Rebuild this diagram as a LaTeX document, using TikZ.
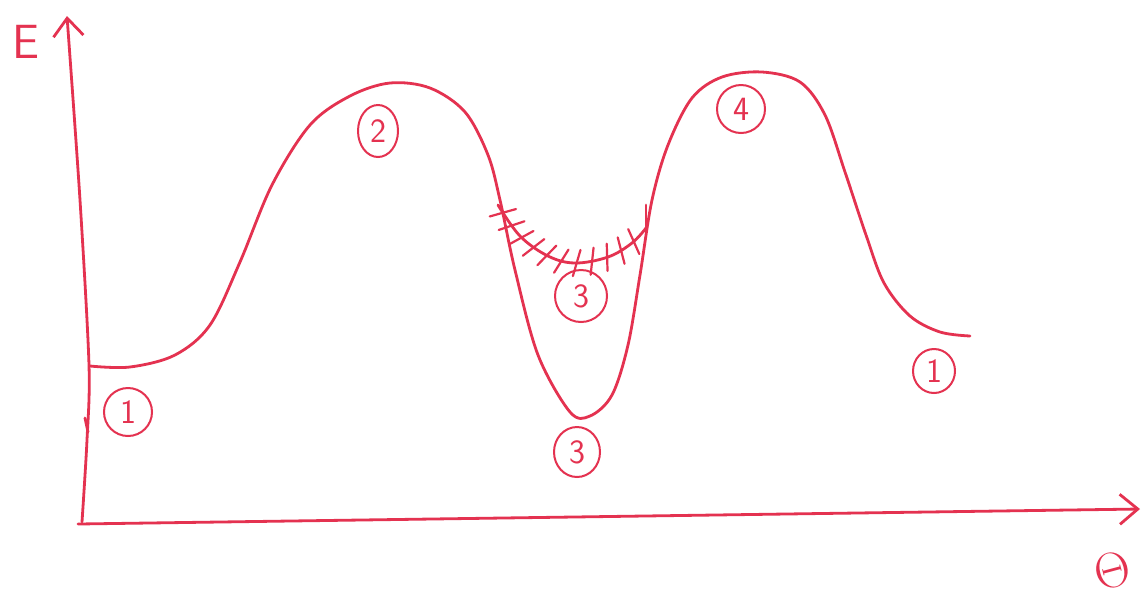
\documentclass[tikz,border=0pt]{standalone}
\usetikzlibrary{arrows.meta,decorations.markings,shapes.geometric}
\definecolor{pen}{RGB}{228,50,80}
\begin{document}
\begin{tikzpicture}[x=0.5pt,y=-0.5pt,
  pen/.style={draw=pen,line width=1.4pt,line cap=round,line join=round},
  lbl/.style={ellipse,draw=pen,line width=1pt,text=pen,font=\sffamily\fontsize{17}{17}\selectfont,inner sep=0pt,minimum width=23pt,minimum height=23pt},
  axtip/.style={-{Straight Barb[length=9pt,width=15pt,line width=1.4pt]}}]
\useasboundingbox (0,0) rectangle (1145,607);
\fill[white] (0,0) rectangle (1145,607);
% axes
\coordinate (o) at (82,522);
\coordinate (ytop) at (67,16);
\coordinate (xend) at (1140,509);
\draw[pen,axtip] plot[smooth,tension=0.5] coordinates {(o) (87,440) (89,365) (80,200) (ytop)};
\draw[pen] (85,418) -- (88,432);
\draw[pen,axtip] (78,524) -- (xend);
\node[text=pen,font=\sffamily\fontsize{24}{24}\selectfont] (E) at (26,42) {E};
\node[text=pen,font=\fontsize{28}{28}\selectfont,rotate=15] (th) at (1112,570) {$\Theta$};
% energy curve
\draw[pen] plot[smooth,tension=0.55] coordinates {
 (90,366) (130,367) (175,355) (210,325) (240,262) (272,185) (310,125)
 (350,96) (390,83) (430,88) (465,112) (488,155) (500,200)
 (515,270) (538,355) (570,412) (590,416) (612,395) (628,345) (640,275)
 (652,200) (668,145) (692,98) (722,77) (762,72) (800,82) (825,115)
 (845,172) (866,235) (884,283) (910,316) (940,332) (970,336)};
% hatched shallow well
\draw[pen,postaction={decorate,decoration={markings,
   mark=between positions 0.05 and 0.97 step 0.085 with {\draw[draw=pen,line width=1.1pt,line cap=round] (-2pt,-6.5pt) -- (2pt,6.5pt);}}}]
 plot[smooth,tension=0.6] coordinates {(498,205) (520,236) (548,256) (575,263) (608,257) (632,243) (646,228)};
\draw[pen] (646,205) -- (646,238);
% labels
\node[lbl,minimum width=24pt,minimum height=24pt] (l1a) at (128,412) {1};
\node[lbl,minimum width=20pt,minimum height=26pt] (l2) at (378,131) {2};
\node[lbl,minimum width=26pt,minimum height=26pt] (l3a) at (581,296) {3};
\node[lbl,minimum width=23pt,minimum height=25pt] (l3b) at (577,452) {3};
\node[lbl,minimum width=24pt,minimum height=24pt] (l4) at (741,109) {4};
\node[lbl,minimum width=21pt,minimum height=22pt] (l1b) at (934,371) {1};
\end{tikzpicture}
\end{document}
